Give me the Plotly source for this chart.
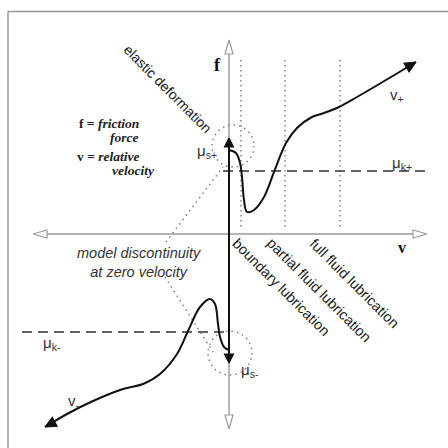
import plotly.graph_objects as go

# Stribeck friction curve: f (friction force) against v (relative velocity).
# Coordinates are in drawing units with the origin at the axis crossing.

# Positive-velocity branch v+
VP_V = [0, 7, 11, 13, 15, 18, 25, 35, 45, 57, 68, 83, 95, 110, 128, 152, 187]
VP_F = [84, 81, 71, 57, 34, 22, 24, 37, 62, 91, 106, 117, 121, 127, 137, 151, 172]

# Negative-velocity branch v-
VM_V = [0, -5, -9, -11, -14, -19, -29, -41, -52, -69, -86, -106, -136, -162, -184]
VM_F = [-116, -113, -103, -90, -70, -65, -73, -97, -120, -140, -150, -155, -167, -180, -193]

# Kinetic friction levels (dashed) and their extents
MU_K_PLUS = 63
MU_K_PLUS_V = [-6, 198]
MU_K_MINUS = -98
MU_K_MINUS_V = [-207, 0]

# Static-friction jump at zero velocity
JUMP_TOP = 96
JUMP_BOTTOM = -129

# Regime boundaries (dotted verticals)
REGIME_V = [12, 56, 111]
REGIME_F = [174, 4]

# Axis extents
V_AXIS = [-196, 198]
F_AXIS = [-195, 194]

# Circles marking the discontinuity (centre v, centre f, radius)
CIRCLES = [(4, 88, 21), (1, -119, 22)]

# Leader lines from the "model discontinuity" note
LEADERS = [([-63, -6], [-8, 67]), ([-64, -16], [-43, -118])]

INK = "#111111"
AXIS = "#9a9a9a"
DOT = "#7a7a7a"


def head(tip, prev, length, half):
    tx, ty = tip
    dx, dy = tx - prev[0], ty - prev[1]
    n = (dx * dx + dy * dy) ** 0.5
    ux, uy = dx / n, dy / n
    bx, by = tx - ux * length, ty - uy * length
    px, py = -uy * half, ux * half
    return [tx, bx + px, bx - px, tx], [ty, by + py, by - py, ty]


fig = go.Figure()


def line(xs, ys, color, width, dash="solid", shape="linear"):
    fig.add_trace(go.Scatter(x=xs, y=ys, mode="lines",
                             line=dict(color=color, width=width, dash=dash, shape=shape),
                             hoverinfo="skip", showlegend=False))


def tri(tip, prev, length, half, fill, edge):
    xs, ys = head(tip, prev, length, half)
    fig.add_trace(go.Scatter(x=xs, y=ys, mode="lines", fill="toself",
                             fillcolor=fill, line=dict(color=edge, width=1.2),
                             hoverinfo="skip", showlegend=False))


# regime boundaries
for v in REGIME_V:
    line([v, v], REGIME_F, DOT, 1.4, dash="1.5px,3.5px")

# axes
line([V_AXIS[0] + 14, V_AXIS[1] - 14], [0, 0], AXIS, 1.4)
line([0, 0], [F_AXIS[0] + 14, F_AXIS[1] - 14], AXIS, 1.4)

# kinetic friction levels
line(MU_K_PLUS_V, [MU_K_PLUS] * 2, "#333333", 1.6, dash="10px,6px")
line(MU_K_MINUS_V, [MU_K_MINUS] * 2, "#333333", 1.6, dash="10px,6px")

# leader lines
for lv, lf in LEADERS:
    line(lv, lf, DOT, 1.4, dash="1.5px,4px")

# static jump
line([0, 0], [JUMP_TOP - 8, JUMP_BOTTOM + 8], INK, 2)

# friction branches
line(VP_V, VP_F, INK, 2, shape="spline")
line(VM_V, VM_F, INK, 2, shape="spline")

# arrowheads
tri((0, F_AXIS[1]), (0, 0), 14, 4, "white", AXIS)
tri((0, F_AXIS[0]), (0, 0), 14, 4, "white", AXIS)
tri((V_AXIS[0], 0), (0, 0), 14, 4, "white", AXIS)
tri((V_AXIS[1], 0), (0, 0), 14, 4, "white", AXIS)
tri((0, JUMP_TOP), (0, 0), 9, 4.5, INK, INK)
tri((0, JUMP_BOTTOM), (0, 0), 9, 4.5, INK, INK)
tri((VP_V[-1], VP_F[-1]), (VP_V[-3], VP_F[-3]), 11, 5, INK, INK)
tri((VM_V[-1], VM_F[-1]), (VM_V[-3], VM_F[-3]), 11, 5, INK, INK)

shapes = [
    # frame (top and left edges)
    dict(type="line", xref="paper", yref="paper", x0=8 / 448, x1=1, y0=1 - 11.5 / 448,
         y1=1 - 11.5 / 448, line=dict(color="#999999", width=1.5)),
    dict(type="line", xref="paper", yref="paper", x0=8 / 448, x1=8 / 448, y0=0,
         y1=1 - 11.5 / 448, line=dict(color="#999999", width=1.5)),
]
for cv, cf, r in CIRCLES:
    shapes.append(dict(type="circle", xref="x", yref="y", x0=cv - r, x1=cv + r,
                       y0=cf - r, y1=cf + r, line=dict(color=DOT, width=1.4, dash="1.5px,4px")))

SANS = "Liberation Sans"
SERIF = "Liberation Serif"

ann = []


def text(x, y, s, size, family=SANS, color="#1a1a1a", angle=0, xanchor="center"):
    ann.append(dict(x=x, y=y, text=s, showarrow=False, textangle=angle, xanchor=xanchor,
                    yanchor="middle", align="center",
                    font=dict(size=size, family=family, color=color)))


text(-12, 169, "<b>f</b>", 18, SERIF, "#111111")
text(173, -13, "<b>v</b>", 16, SERIF, "#111111")
text(-61, 145, "elastic deformation", 14, angle=45)
text(52, -53, "boundary lubrication", 14.5, angle=45)
text(90, -56, "partial fluid lubrication", 14.5, angle=45)
text(125, -49, "full fluid lubrication", 14.5, angle=45)
text(-90, -28, "<i>model discontinuity<br>at zero velocity</i>", 14.5, color="#333333")
text(-152, 111, "<b>f = <i>friction</i></b>", 13.5, SERIF, "#222222", xanchor="left")
text(-121, 97, "<b><i>force</i></b>", 13.5, SERIF, "#222222", xanchor="left")
text(-154, 78, "<b>v = <i>relative</i></b>", 13.5, SERIF, "#222222", xanchor="left")
text(-119, 64, "<b><i>velocity</i></b>", 13.5, SERIF, "#222222", xanchor="left")
text(-22, 83, "μ<sub>s+</sub>", 15, color="#333333")
text(173, 71, "μ<sub>k+</sub>", 15, color="#333333")
text(168, 139, "v<sub>+</sub>", 15, color="#333333")
text(21, -136, "μ<sub>s-</sub>", 15, color="#333333")
text(-177, -109, "μ<sub>k-</sub>", 15, color="#333333")
text(-155, -167, "v<sub>-</sub>", 15, color="#333333")

fig.update_layout(
    width=448, height=448,
    margin=dict(l=0, r=0, t=0, b=0),
    paper_bgcolor="white", plot_bgcolor="white",
    xaxis=dict(range=[-229, 219], visible=False, fixedrange=True),
    yaxis=dict(range=[-214, 234], visible=False, fixedrange=True),
    shapes=shapes, annotations=ann, showlegend=False,
)

fig.write_html("out.html")
